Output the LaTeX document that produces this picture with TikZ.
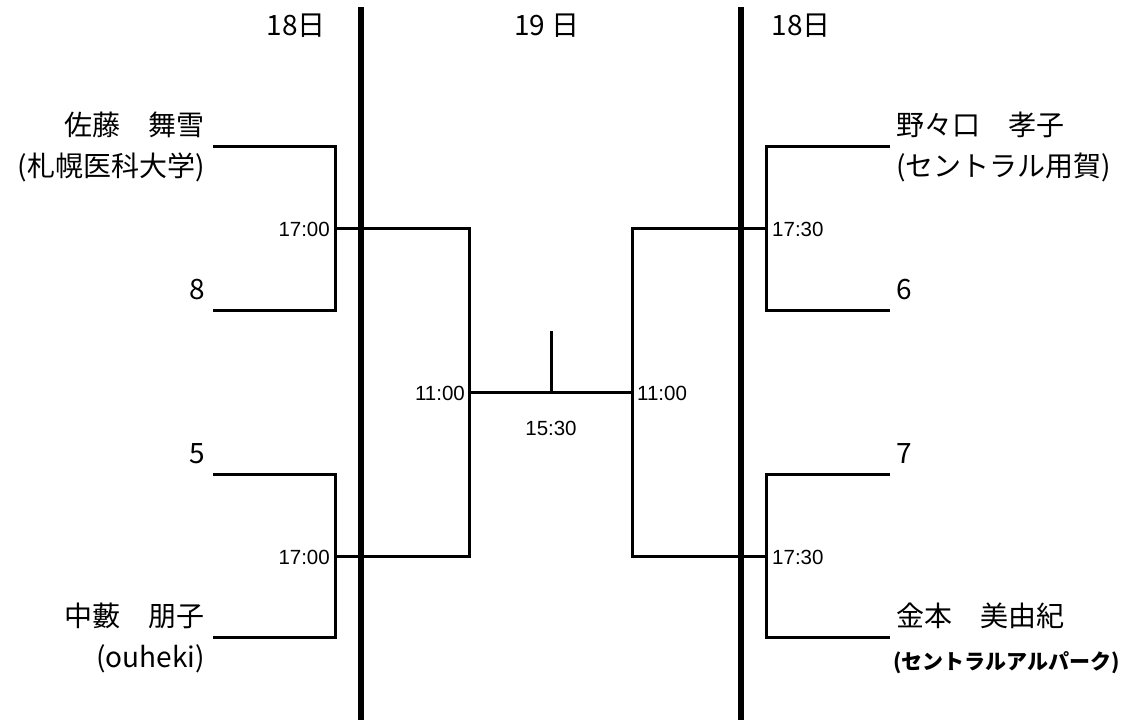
\documentclass[tikz,border=0pt]{standalone}
\usepackage{fontspec}
\setmainfont{Liberation Sans}
\newfontfamily\jpfont{Noto Sans CJK JP}
\begin{document}
\begin{tikzpicture}[x=1pt,y=-1pt,
  bracket/.style={line width=3pt},
  dayline/.style={line width=5.5pt},
  namestyle/.style={inner sep=0pt,font=\jpfont\fontsize{28}{32}\selectfont,text height=0.8em,text depth=0.2em},
  smallname/.style={inner sep=0pt,font=\jpfont\bfseries\fontsize{21}{24}\selectfont,text height=0.8em,text depth=0.2em},
  timestyle/.style={inner sep=0pt,font=\fontsize{20.5}{24}\selectfont}]
\useasboundingbox (0,0) rectangle (1128,720);

% day separators
\coordinate (L1) at (361,7);
\coordinate (L2) at (361,720);
\coordinate (R1) at (741,7);
\coordinate (R2) at (741,720);
\draw[dayline] (L1) -- (L2);
\draw[dayline] (R1) -- (R2);

% headers
\node[namestyle] (h1) at (296,32) {18日};
\node[namestyle] (h2) at (547,32) {19 日};
\node[namestyle] (h3) at (801,32) {18日};

% bracket points
\coordinate (a1) at (213,146);
\coordinate (a2) at (213,310);
\coordinate (m1) at (335,228);
\coordinate (b1) at (213,474);
\coordinate (b2) at (213,637);
\coordinate (m2) at (335,556);
\coordinate (s1) at (469,392);
\coordinate (c1) at (890,146);
\coordinate (c2) at (890,310);
\coordinate (n1) at (766,228);
\coordinate (d1) at (890,474);
\coordinate (d2) at (890,637);
\coordinate (n2) at (766,556);
\coordinate (s2) at (632,392);
\coordinate (f) at (551,392);
\coordinate (t) at (551,331);

% brackets
\draw[bracket] (a1) -| (m1) |- (a2);
\draw[bracket] (b1) -| (m2) |- (b2);
\draw[bracket] (m1) -| (s1) |- (m2);
\draw[bracket] (c1) -| (n1) |- (c2);
\draw[bracket] (d1) -| (n2) |- (d2);
\draw[bracket] (n1) -| (s2) |- (n2);
\draw[bracket] (s1) -- (s2);
\draw[bracket] (f) -- (t);

% times
\node[timestyle,anchor=east] (t1) at (330,229) {17:00};
\node[timestyle,anchor=east] (t2) at (330,557) {17:00};
\node[timestyle,anchor=east] (t3) at (465,393) {11:00};
\node[timestyle,anchor=west] (t4) at (637,393) {11:00};
\node[timestyle] (t5) at (551,428) {15:30};
\node[timestyle,anchor=west] (t6) at (772,229) {17:30};
\node[timestyle,anchor=west] (t7) at (772,557) {17:30};

% left names
\node[namestyle,anchor=east] (p1) at (205,132) {佐藤　舞雪};
\node[namestyle,anchor=east] (p1b) at (205,173) {(札幌医科大学)};
\node[namestyle,anchor=east] (p2) at (205,296) {8};
\node[namestyle,anchor=east] (p3) at (205,460) {5};
\node[namestyle,anchor=east] (p4) at (205,623) {中藪　朋子};
\node[namestyle,anchor=east] (p4b) at (205,664) {(ouheki)};

% right names
\node[namestyle,anchor=west] (q1) at (896,132) {野々口　孝子};
\node[namestyle,anchor=west] (q1b) at (896,173) {(セントラル用賀)};
\node[namestyle,anchor=west] (q2) at (896,296) {6};
\node[namestyle,anchor=west] (q3) at (896,460) {7};
\node[namestyle,anchor=west] (q4) at (896,623) {金本　美由紀};
\node[smallname,anchor=west] (q4b) at (893,666) {(セントラルアルパーク)};
\end{tikzpicture}
\end{document}
